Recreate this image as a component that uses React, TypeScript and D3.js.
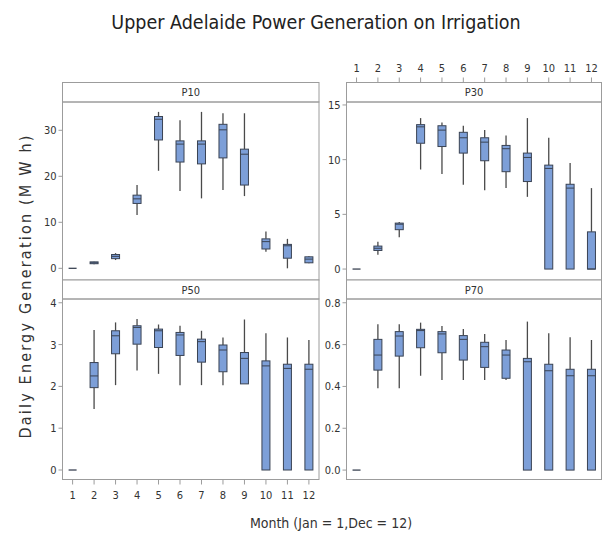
import React from "react";
import * as d3 from "d3";

// box stats per month: [lowWhisker, q1, median, q3, highWhisker]
const months = [1, 2, 3, 4, 5, 6, 7, 8, 9, 10, 11, 12];

const p10Stats = [
  [0, 0, 0, 0, 0],
  [0.9, 1.0, 1.2, 1.4, 1.5],
  [1.8, 2.1, 2.6, 3.0, 3.3],
  [11.6, 14.1, 15.1, 15.9, 18.1],
  [21.2, 27.9, 32.4, 33.0, 34.0],
  [16.8, 23.1, 27.0, 27.7, 32.2],
  [15.2, 22.7, 27.0, 27.7, 34.0],
  [17.0, 24.0, 30.1, 31.3, 33.7],
  [15.7, 18.1, 24.8, 25.9, 33.7],
  [3.6, 4.2, 5.8, 6.4, 8.0],
  [0, 2.2, 4.9, 5.2, 6.4],
  [1.1, 1.2, 2.0, 2.5, 2.7],
];

const p30Stats = [
  [0, 0, 0, 0, 0],
  [1.3, 1.7, 1.9, 2.1, 2.5],
  [2.9, 3.6, 4.1, 4.2, 4.3],
  [9.1, 11.5, 13.0, 13.2, 13.8],
  [8.7, 11.2, 12.7, 13.1, 13.4],
  [7.7, 10.6, 12.0, 12.5, 13.1],
  [7.2, 9.9, 11.6, 12.0, 12.7],
  [7.4, 8.9, 11.0, 11.3, 12.2],
  [6.6, 8.0, 10.2, 10.6, 13.8],
  [0, 0, 9.2, 9.5, 12.0],
  [0, 0, 7.4, 7.75, 9.7],
  [0, 0, 0, 3.4, 7.4],
];

const p50Stats = [
  [0, 0, 0, 0, 0],
  [1.46, 1.97, 2.25, 2.57, 3.35],
  [2.03, 2.78, 3.21, 3.33, 3.53],
  [2.38, 3.01, 3.41, 3.45, 3.61],
  [2.3, 2.93, 3.33, 3.37, 3.48],
  [2.03, 2.74, 3.23, 3.29, 3.45],
  [2.03, 2.58, 3.07, 3.13, 3.33],
  [2.03, 2.35, 2.87, 2.99, 3.17],
  [2.06, 2.06, 2.67, 2.81, 3.6],
  [0, 0, 2.49, 2.61, 3.27],
  [0, 0, 2.43, 2.53, 3.17],
  [0, 0, 2.41, 2.53, 3.11],
];

const p70Stats = [
  [0, 0, 0, 0, 0],
  [0.391, 0.478, 0.55, 0.625, 0.697],
  [0.391, 0.545, 0.641, 0.662, 0.697],
  [0.451, 0.585, 0.667, 0.673, 0.705],
  [0.431, 0.561, 0.651, 0.662, 0.689],
  [0.431, 0.526, 0.625, 0.643, 0.675],
  [0.431, 0.491, 0.59, 0.611, 0.651],
  [0.431, 0.439, 0.55, 0.574, 0.622],
  [0, 0, 0.518, 0.534, 0.71],
  [0, 0, 0.475, 0.506, 0.654],
  [0, 0, 0.451, 0.482, 0.635],
  [0, 0, 0.451, 0.482, 0.622],
];

const p10Ticks = [0, 10, 20, 30];
const p30Ticks = [0, 5, 10, 15];
const p50Ticks = [0, 1, 2, 3, 4];
const p70Ticks = [0, 0.2, 0.4, 0.6, 0.8];

const W = 604;
const H = 539;
const FONT = "'Liberation Sans Narrow', 'DejaVu Sans Condensed', 'Noto Sans', sans-serif";
const BOX_FILL = "#7d9fd8";
const BOX_STROKE = "#3a4353";
const FRAME = "#9c9c9c";

const cols = [
  { x0: 62.5, x1: 319 },
  { x0: 346.5, x1: 601.5 },
];
const rows = [
  { y0: 82.5, strip: 102, y1: 280 },
  { y0: 280, strip: 299, y1: 479.5 },
];

interface PanelDef {
  name: string;
  stats: number[][];
  ticks: number[];
  domain: [number, number];
  col: number;
  row: number;
  fmt: (v: number) => string;
}

const panels: PanelDef[] = [
  { name: "P10", stats: p10Stats, ticks: p10Ticks, domain: [-2.54, 36.15], col: 0, row: 0, fmt: d3.format("d") },
  { name: "P30", stats: p30Stats, ticks: p30Ticks, domain: [-1.0, 15.27], col: 1, row: 0, fmt: d3.format("d") },
  { name: "P50", stats: p50Stats, ticks: p50Ticks, domain: [-0.227, 4.09], col: 0, row: 1, fmt: d3.format("d") },
  { name: "P70", stats: p70Stats, ticks: p70Ticks, domain: [-0.045, 0.818], col: 1, row: 1, fmt: d3.format(".1f") },
];

const Panel: React.FC<{ p: PanelDef }> = ({ p }) => {
  const c = cols[p.col];
  const r = rows[p.row];
  const x = d3.scalePoint<number>().domain(months).range([c.x0, c.x1]).padding(0.47);
  const y = d3.scaleLinear().domain(p.domain).range([r.y1, r.strip]);
  const bw = 8;
  return (
    <g>
      {/* strip */}
      <rect x={c.x0} y={r.y0} width={c.x1 - c.x0} height={r.strip - r.y0} fill="#ffffff" stroke={FRAME} strokeWidth={1} />
      <text x={(c.x0 + c.x1) / 2} y={(r.y0 + r.strip) / 2 + 4} textAnchor="middle" fontSize={11} fill="#333" fontFamily={FONT}>
        {p.name}
      </text>
      {/* frame */}
      <rect x={c.x0} y={r.strip} width={c.x1 - c.x0} height={r.y1 - r.strip} fill="none" stroke={FRAME} strokeWidth={1} />
      {/* y axis */}
      {p.ticks.map((t) => (
        <g key={t}>
          <line x1={c.x0 - 4} x2={c.x0} y1={y(t)} y2={y(t)} stroke={FRAME} />
          <text x={c.x0 - 6} y={y(t) + 4} textAnchor="end" fontSize={11} fill="#333" fontFamily={FONT}>
            {p.fmt(t)}
          </text>
        </g>
      ))}
      {/* boxes */}
      {p.stats.map((s, i) => {
        const cx = x(months[i]) ?? 0;
        const [lo, q1, med, q3, hi] = s;
        if (hi - lo === 0) {
          return <line key={i} x1={cx - 4} x2={cx + 4} y1={y(med)} y2={y(med)} stroke={BOX_STROKE} strokeWidth={1.3} />;
        }
        return (
          <g key={i}>
            <line x1={cx} x2={cx} y1={y(hi)} y2={y(q3)} stroke="#4a4a4a" strokeWidth={1.3} />
            <line x1={cx} x2={cx} y1={y(q1)} y2={y(lo)} stroke="#4a4a4a" strokeWidth={1.3} />
            <rect x={cx - bw / 2} y={y(q3)} width={bw} height={Math.max(1, y(q1) - y(q3))} fill={BOX_FILL} stroke={BOX_STROKE} strokeWidth={1} />
            <line x1={cx - bw / 2} x2={cx + bw / 2} y1={y(med)} y2={y(med)} stroke={BOX_STROKE} strokeWidth={1} />
          </g>
        );
      })}
      {/* month axis: bottom on left-bottom panel, top on right-top panel */}
      {p.col === 0 && p.row === 1 &&
        months.map((m) => (
          <g key={m}>
            <line x1={x(m)} x2={x(m)} y1={r.y1} y2={r.y1 + 5} stroke={FRAME} />
            <text x={x(m)} y={r.y1 + 19} textAnchor="middle" fontSize={11} fill="#333" fontFamily={FONT}>
              {m}
            </text>
          </g>
        ))}
      {p.col === 1 && p.row === 0 &&
        months.map((m) => (
          <g key={m}>
            <line x1={x(m)} x2={x(m)} y1={r.y0 - 5} y2={r.y0} stroke={FRAME} />
            <text x={x(m)} y={r.y0 - 11} textAnchor="middle" fontSize={11} fill="#333" fontFamily={FONT}>
              {m}
            </text>
          </g>
        ))}
    </g>
  );
};

export default function App() {
  return (
    <div style={{ position: "absolute", left: 0, top: 0 }}>
      <svg width={W} height={H} style={{ display: "block", background: "#fff" }}>
        <text x={316} y={29} textAnchor="middle" fontSize={19.5} fill="#222" fontFamily={FONT}>
          Upper Adelaide Power Generation on Irrigation
        </text>
        {panels.map((p) => (
          <Panel key={p.name} p={p} />
        ))}
        <text
          transform="translate(31,286) rotate(-90)"
          textAnchor="middle"
          fontSize={16}
          letterSpacing={2.2}
          fill="#333"
          fontFamily={FONT}
        >
          Daily Energy Generation (M W h)
        </text>
        <text x={331} y={528} textAnchor="middle" fontSize={14} fill="#333" fontFamily={FONT}>
          Month (Jan = 1,Dec = 12)
        </text>
      </svg>
    </div>
  );
}
